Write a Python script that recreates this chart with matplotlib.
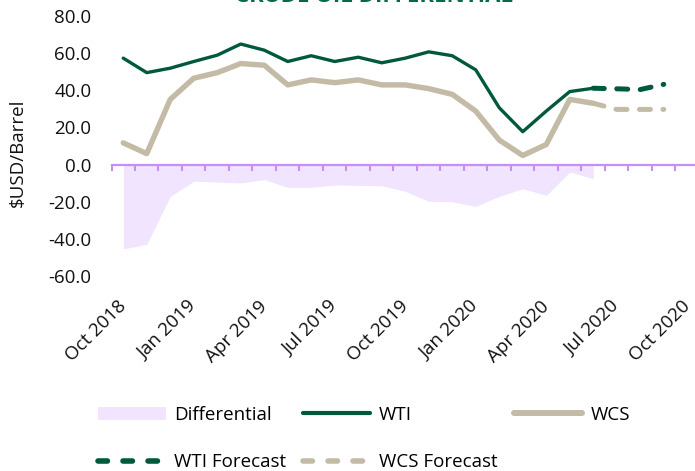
import matplotlib
matplotlib.use("Agg")
import matplotlib.pyplot as plt
from matplotlib.lines import Line2D
from matplotlib.patches import Patch

# ---------------- data ----------------
months = ["Oct 2018", "Nov 2018", "Dec 2018", "Jan 2019", "Feb 2019", "Mar 2019",
          "Apr 2019", "May 2019", "Jun 2019", "Jul 2019", "Aug 2019", "Sep 2019",
          "Oct 2019", "Nov 2019", "Dec 2019", "Jan 2020", "Feb 2020", "Mar 2020",
          "Apr 2020", "May 2020", "Jun 2020", "Jul 2020", "Aug 2020", "Sep 2020",
          "Oct 2020"]
wti = [57.3, 49.5, 51.9, 55.5, 58.9, 64.9, 61.6, 55.5, 58.6, 55.5, 57.8, 54.8,
       57.3, 60.7, 58.6, 51.0, 30.6, 17.7, 28.8, 39.3, 41.1]
wcs = [11.7, 5.9, 35.1, 46.5, 49.5, 54.4, 53.5, 42.9, 45.6, 44.1, 45.6, 42.9,
       42.9, 40.9, 37.8, 28.8, 13.2, 4.9, 10.8, 35.1, 33.0]
differential = [-45.4, -42.9, -17.1, -9.0, -9.4, -9.9, -8.1, -12.3, -12.3, -11.0,
                -11.2, -11.4, -14.4, -19.8, -20.0, -22.5, -17.1, -13.0, -16.6,
                -4.0, -7.6]
forecast_months = ["Jun 2020", "Jul 2020", "Aug 2020", "Sep 2020"]
wti_forecast = [41.1, 40.8, 40.4, 43.2]
wcs_forecast = [33.0, 29.7, 29.7, 29.7]
tick_labels = ["Oct 2018", "Jan 2019", "Apr 2019", "Jul 2019", "Oct 2019",
               "Jan 2020", "Apr 2020", "Jul 2020", "Oct 2020"]
yticks = [-60, -40, -20, 0, 20, 40, 60, 80]

# ---------------- style ----------------
FONT = ["Open Sans", "DejaVu Sans"]
plt.rcParams["font.family"] = FONT
FS = 13.5
C_WTI = "#00583D"
C_WCS = "#C4BBA7"
C_FILL = "#F0E4FE"
C_AXIS = "#C68EF6"
C_TITLE = "#006B4B"

W, H = 695, 471
fig = plt.figure(figsize=(W / 100, H / 100), dpi=100)
left_px, right_px, top_px, bot_px = 111.5, 695, 16, 276
ax = fig.add_axes([left_px / W, 1 - bot_px / H, (right_px - left_px) / W,
                   (bot_px - top_px) / H])

idx = {m: i for i, m in enumerate(months)}
x_act = [idx[m] for m in months[:len(wti)]]
x_fc = [idx[m] for m in forecast_months]

ax.fill_between(x_act, differential, 0, color=C_FILL, linewidth=0, zorder=1)
ax.plot(x_act, wti, color=C_WTI, lw=2.4, solid_joinstyle="round",
        solid_capstyle="round", zorder=3)
ax.plot(x_act, wcs, color=C_WCS, lw=3.9, solid_joinstyle="round",
        solid_capstyle="round", zorder=3)
ax.plot(x_fc, wti_forecast, color=C_WTI, lw=3.6, dashes=(2.2, 2.5),
        dash_capstyle="round", dash_joinstyle="round", zorder=3)
ax.plot(x_fc, wcs_forecast, color=C_WCS, lw=3.6, dashes=(2.2, 2.5),
        dash_capstyle="round", dash_joinstyle="round", zorder=3)

ax.set_xlim(-0.5, 24.33)
ax.set_ylim(-60, 80)

# zero axis line with purple ticks between categories
for s in ["top", "right", "left"]:
    ax.spines[s].set_visible(False)
ax.spines["bottom"].set_position(("data", 0))
ax.spines["bottom"].set_color(C_AXIS)
ax.spines["bottom"].set_linewidth(1.6)
ax.spines["bottom"].set_zorder(2)
ax.set_xticks([i - 0.5 for i in range(len(months))])
ax.tick_params(axis="x", which="major", direction="out", length=4, width=1.5,
               color=C_AXIS, labelbottom=False)

ax.set_yticks(yticks)
ax.set_yticklabels([f"{v:.1f}" for v in yticks])
ax.tick_params(axis="y", length=0, pad=14.5, labelsize=FS, labelcolor="#111111")
ax.set_ylabel("$USD/Barrel", fontsize=FS, color="#111111")
ax.yaxis.set_label_coords(-0.145, 0.473)

# date labels at the bottom
sec = ax.secondary_xaxis("bottom")
sec.set_xticks([idx[m] for m in tick_labels])
sec.set_xticklabels(tick_labels, rotation=45, ha="right", rotation_mode="anchor",
                    va="center", fontsize=FS, color="#111111")
sec.tick_params(length=0, pad=20)
sec.spines["bottom"].set_visible(False)

# title, cut off at the top edge as in the reference
fig.text(374 / W, 1 - 2.5 / H, "CRUDE OIL DIFFERENTIAL", ha="center",
         va="baseline", fontsize=16, fontweight="bold", color=C_TITLE)

handles = [
    Patch(facecolor=C_FILL, edgecolor="none", label="Differential"),
    Line2D([], [], color=C_WTI, lw=4.0, dashes=(1.7, 2.8), dash_capstyle="round",
           label="WTI Forecast"),
    Line2D([], [], color=C_WTI, lw=3.0, solid_capstyle="round", label="WTI"),
    Line2D([], [], color=C_WCS, lw=4.0, dashes=(1.7, 2.8), dash_capstyle="round",
           label="WCS Forecast"),
    Line2D([], [], color=C_WCS, lw=4.3, solid_capstyle="round", label="WCS"),
]
fig.legend(handles=handles, ncol=3, loc="upper left",
           bbox_to_anchor=(98 / W, 1 - 406 / H), frameon=False, fontsize=FS,
           handlelength=3.6, handletextpad=0.45, columnspacing=0.9,
           labelspacing=1.55, borderpad=0, borderaxespad=0, handleheight=0.7)

fig.savefig("out.png", dpi=100)
